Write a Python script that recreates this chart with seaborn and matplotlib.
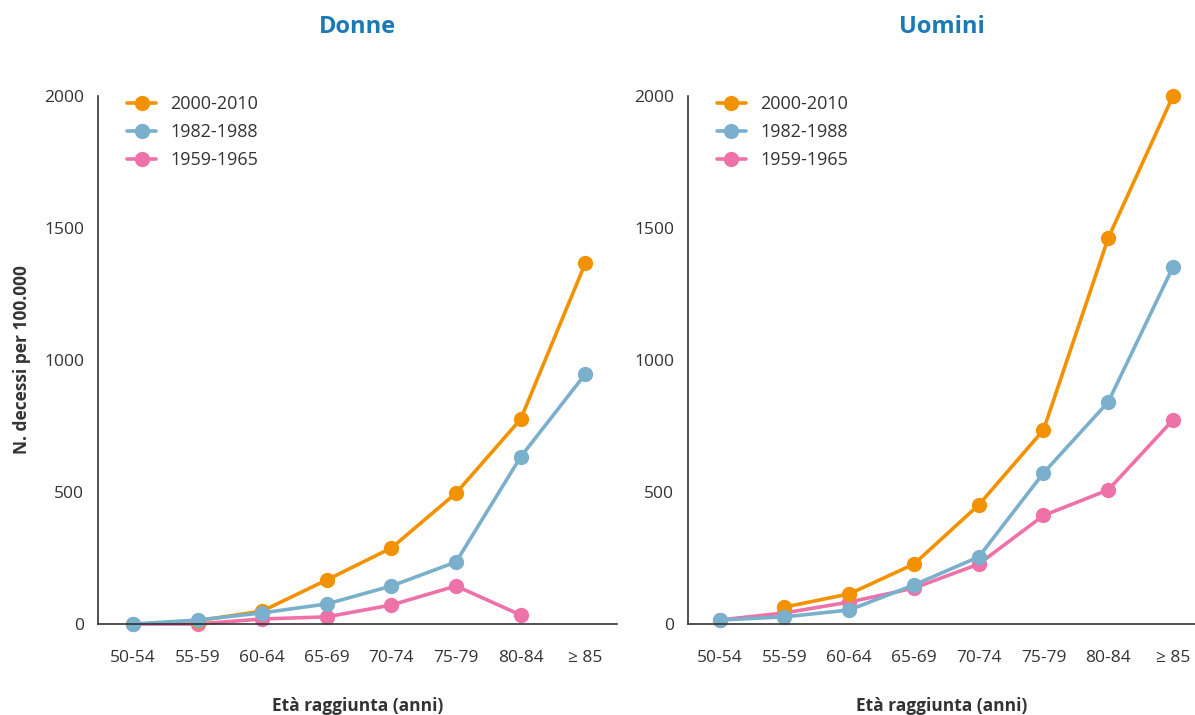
import pandas as pd
import numpy as np
import matplotlib
matplotlib.use("Agg")
import matplotlib.pyplot as plt
from matplotlib.lines import Line2D
import seaborn as sns

sns.set_theme(style="white")
plt.rcParams['font.family'] = ['Open Sans', 'DejaVu Sans']

# %% data
eta = ['50-54', '55-59', '60-64', '65-69', '70-74', '75-79', '80-84', '≥ 85']
coorti = ['2000-2010', '1982-1988', '1959-1965']

# Donne (None = no value for that age group)
donne_2000 = [None, 12, 49, 167, 288, 496, 776, 1367]
donne_1982 = [0, 15, 42, 76, 144, 235, 633, 947]
donne_1959 = [0, 0, 19, 27, 72, 144, 34, None]

# Uomini
uomini_2000 = [None, 64, 114, 227, 451, 735, 1462, 2000]
uomini_1982 = [15, 27, 53, 148, 254, 572, 841, 1352]
uomini_1959 = [15, 42, 83, 136, 227, 411, 508, 773]

colori = {'2000-2010': '#F39200', '1982-1988': '#7AB0CC', '1959-1965': '#EE72A8'}
title_color = '#1A7AB8'
text_color = '#333333'


def to_long(series):
    rows = []
    for name, vals in series.items():
        for e, v in zip(eta, vals):
            if v is not None:
                rows.append({'eta': e, 'valore': v, 'coorte': name})
    df = pd.DataFrame(rows)
    df['eta'] = pd.Categorical(df['eta'], categories=eta, ordered=True)
    return df


df_donne = to_long({'2000-2010': donne_2000, '1982-1988': donne_1982, '1959-1965': donne_1959})
df_uomini = to_long({'2000-2010': uomini_2000, '1982-1988': uomini_1982, '1959-1965': uomini_1959})

# %% figure
fig = plt.figure(figsize=(11.95, 7.15), dpi=100)
ax1 = fig.add_axes([98 / 1195, 91 / 715, 519 / 1195, 528 / 715])
ax2 = fig.add_axes([688 / 1195, 91 / 715, 507 / 1195, 528 / 715])

# pink under orange under blue, as in the original
draw_order = ['1959-1965', '2000-2010', '1982-1988']

for ax, df, xlim in [(ax1, df_donne, (-0.54, 7.49)),
                     (ax2, df_uomini, (-0.49, 7.34))]:
    for c in draw_order:
        sub = df[df['coorte'] == c].copy()
        sub['x'] = sub['eta'].cat.codes
        sns.lineplot(data=sub, x='x', y='valore', ax=ax, color=colori[c],
                     linewidth=2.6, marker='o', markersize=11, markeredgewidth=0,
                     clip_on=False, legend=False)

    ax.set_xlim(*xlim)
    ax.set_ylim(0, 2000)
    ax.set_xticks(range(len(eta)))
    ax.set_xticklabels(eta)
    ax.set_yticks([0, 500, 1000, 1500, 2000])
    ax.set_yticklabels(['0', '500', '1000', '1500', '2000'])
    sns.despine(ax=ax)
    for s in ['left', 'bottom']:
        ax.spines[s].set_color(text_color)
        ax.spines[s].set_linewidth(1.2)
    ax.tick_params(axis='x', direction='out', length=5, width=1.2, color=text_color,
                   pad=14, labelsize=12.5, labelcolor=text_color)
    ax.tick_params(axis='y', direction='out', length=5, width=1.2, color=text_color,
                   pad=5, labelsize=12.5, labelcolor=text_color)
    ax.grid(False)
    ax.set_xlabel('Età raggiunta (anni)', fontsize=12.5, fontweight='bold',
                  color=text_color, labelpad=22)
    ax.set_ylabel('')

    handles = [Line2D([0], [0], color=colori[c], linewidth=2.6, marker='o',
                      markersize=11, markeredgewidth=0) for c in coorti]
    ax.legend(handles, coorti, loc='upper left', bbox_to_anchor=(0.025, 1.033),
              frameon=False, fontsize=13, handlelength=1.6, labelspacing=0.57,
              handletextpad=0.8, labelcolor=text_color)

fig.text((98 + 519 / 2) / 1195, 1 - 27 / 715, 'Donne', ha='center', va='center',
         fontsize=17, fontweight='bold', color=title_color)
fig.text((688 + 507 / 2) / 1195, 1 - 27 / 715, 'Uomini', ha='center', va='center',
         fontsize=17, fontweight='bold', color=title_color)

fig.text(22 / 1195, 1 - 360 / 715, 'N. decessi per 100.000', rotation=90,
         ha='center', va='center', fontsize=12.5, fontweight='bold', color=text_color)

fig.savefig('out.png', dpi=100, facecolor='white')
